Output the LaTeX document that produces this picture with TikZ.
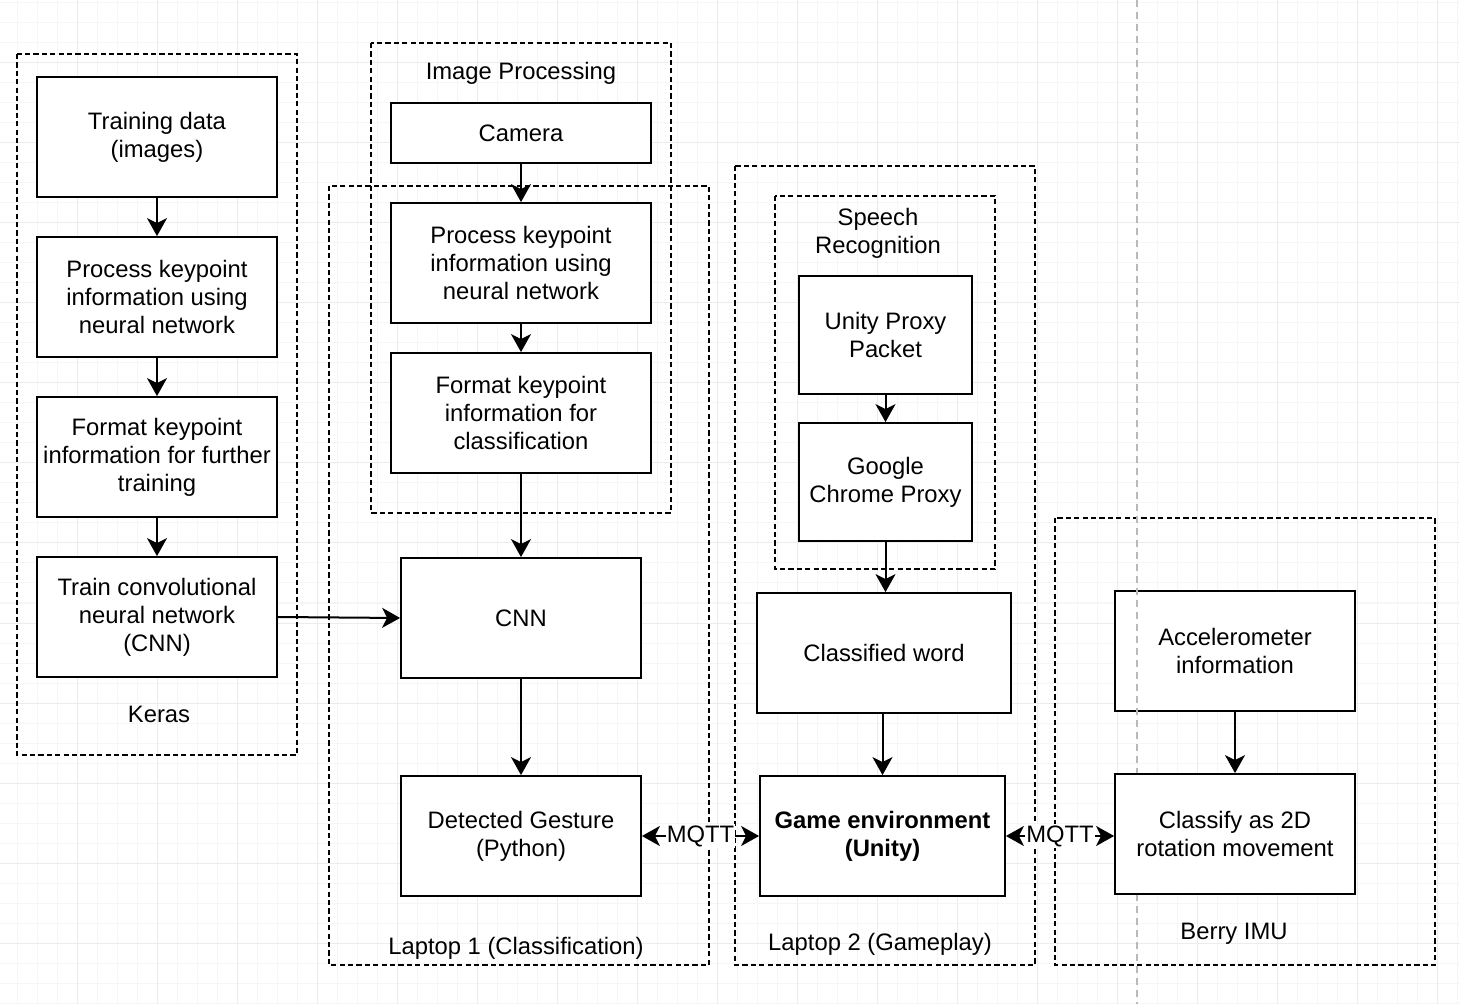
\documentclass[tikz,border=0pt]{standalone}
\usepackage{fontspec}
\setmainfont{Liberation Sans}
\usepackage{xcolor}
\usepackage{tikz}
\usetikzlibrary{arrows.meta}

\begin{document}
\begin{tikzpicture}[x=0.5pt, y=-0.5pt,
  font=\fontsize{11.9}{14}\selectfont,
  box/.style={draw, line width=0.9pt, fill=white, align=center, inner sep=0pt,
    minimum width=120pt, minimum height=60pt},
  group/.style={draw, line width=0.65pt, dash pattern=on 2.6pt off 1.6pt},
  tip/.tip={Stealth[length=9pt, width=10pt, inset=2.5pt]},
  arr/.style={-tip, line width=1pt},
  arrboth/.style={tip-tip, line width=1pt},
  mqtt/.style={fill=white, inner sep=0.5pt},
  lbl/.style={align=center}]
\useasboundingbox (0,0) rectangle (1460,1004);
\fill[white] (0,0) rectangle (1460,1004);
% grid
\foreach \gx in {-3,17,...,1457} \draw[gray!7, line width=0.5pt] (\gx,0) -- (\gx,1004);
\foreach \gy in {3,23,...,1003} \draw[gray!7, line width=0.5pt] (0,\gy) -- (1460,\gy);
\foreach \gx in {77,157,...,1437} \draw[gray!15, line width=0.5pt] (\gx,0) -- (\gx,1004);
\foreach \gy in {63,143,...,983} \draw[gray!15, line width=0.5pt] (0,\gy) -- (1460,\gy);
% groups
\draw[group] (17,54) rectangle (297,755);
\draw[group] (371,43) rectangle (671,513);
\draw[group] (329,186) rectangle (709,965);
\draw[group] (735,166) rectangle (1035,965);
\draw[group] (775,196) rectangle (995,569);
\draw[group] (1055,518) rectangle (1435,965);
% Keras
\node[box] (traindata) at (157,137) {Training data\\(images)};
\node[box] (kerasproc) at (157,297) {Process keypoint\\information using\\neural network};
\node[box] (kerasfmt) at (157,457) {Format keypoint\\information for further\\training};
\node[box] (traincnn) at (157,617) {Train convolutional\\neural network\\(CNN)};
\node[lbl] (keras) at (159,714) {Keras};
% Laptop 1
\node[lbl] (imgproc) at (521,73) {Image Processing};
\node[box, minimum width=130pt, minimum height=30pt] (camera) at (521,133) {Camera};
\node[box, minimum width=130pt] (proc) at (521,263) {Process keypoint\\information using\\neural network};
\node[box, minimum width=130pt] (fmt) at (521,413) {Format keypoint\\information for\\classification};
\node[box] (cnn) at (521,618) {CNN};
\node[box] (gesture) at (521,836) {Detected Gesture\\(Python)};
\node[lbl] (laptopa) at (516,948) {Laptop 1 (Classification)};
% Laptop 2
\node[lbl] (speech) at (878,233) {Speech\\Recognition};
\node[box, minimum width=86.5pt, minimum height=59pt] (unity) at (885.5,335) {Unity Proxy\\Packet};
\node[box, minimum width=86.5pt, minimum height=59pt] (chrome) at (885.5,482) {Google\\Chrome Proxy};
\node[box, minimum width=127pt] (word) at (884,653) {Classified word};
\node[box, minimum width=122.5pt] (game) at (882.5,836) {\bfseries Game environment\\\bfseries (Unity)};
\node[lbl] (laptopb) at (880,944) {Laptop 2 (Gameplay)};
% Berry IMU
\node[box] (accel) at (1235,651) {Accelerometer\\information};
\node[lbl] (berry) at (1234,934) {Berry IMU};
% divider
\draw[gray!55, line width=0.8pt, dash pattern=on 3.5pt off 2.5pt] (1137,0) -- (1137,774);
\draw[gray!55, line width=0.8pt, dash pattern=on 3.5pt off 2.5pt] (1137,894) -- (1137,1004);
\node[box] (classify) at (1235,834) {Classify as 2D\\rotation movement};
% arrows
\draw[arr] (traindata) -- (kerasproc);
\draw[arr] (kerasproc) -- (kerasfmt);
\draw[arr] (kerasfmt) -- (traincnn);
\draw[arr] (traincnn.east) -- (cnn.west);
\draw[arr] (camera) -- (proc);
\draw[arr] (proc) -- (fmt);
\draw[arr] (fmt) -- (cnn);
\draw[arr] (cnn) -- (gesture);
\draw[arr] (unity) -- (chrome);
\draw[arr] (chrome.south) -- (chrome.south |- word.north);
\draw[arr] (word.south -| game.north) -- (game.north);
\draw[arr] (accel) -- (classify);
\draw[arrboth] (gesture.east) -- node[mqtt] (mqtta) {MQTT} (game.west);
\draw[arrboth] (game.east) -- node[mqtt] (mqttb) {MQTT} (game.east -| classify.west);
\end{tikzpicture}
\end{document}
